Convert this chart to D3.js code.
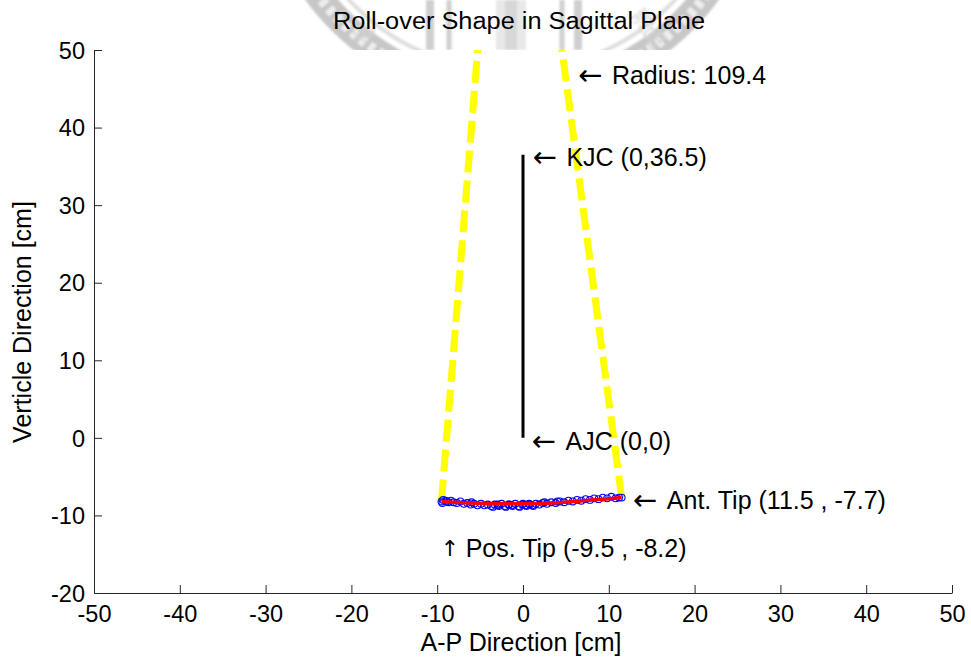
<!DOCTYPE html>
<html>
<head>
<meta charset="utf-8">
<script src="https://cdn.jsdelivr.net/npm/d3@7"></script>
<style>
  body { margin: 0; background: #fff; }
  text { font-family: "Liberation Sans", Arial, Helvetica, sans-serif; fill: #000; }
</style>
</head>
<body>
<svg id="chart" width="971" height="660"></svg>
<script>
// ---- data (cm) ----
const xTicks = [-50, -40, -30, -20, -10, 0, 10, 20, 30, 40, 50];
const yTicks = [-20, -10, 0, 10, 20, 30, 40, 50];

// shank: ankle joint centre to knee joint centre
const shank = [[0, 0], [0, 36.5]];

// roll-over circle: centre and its two end points (posterior / anterior tip)
const rollCenter = [-1.59, 100.9];
const posTip = [-9.5, -8.2];
const antTip = [11.5, -7.7];

// measured centre-of-pressure samples
const copX = [-9.5, -9.3, -9.0, -8.7, -8.4, -8.1, -7.7, -7.3, -6.9, -6.5, -6.1, -5.7, -5.3, -4.9, -4.5,
              -4.1, -3.7, -3.3, -2.9, -2.5, -2.1, -1.7, -1.3, -0.9, -0.5, -0.1, 0.3, 0.7, 1.1, 1.5,
              1.9, 2.3, 2.8, 3.3, 3.8, 4.3, 4.8, 5.3, 5.8, 6.3, 6.8, 7.3, 7.8, 8.3, 8.8, 9.3, 9.8,
              10.3, 10.8, 11.2, 11.5,
              -3.5, -2.8, -2.0, -1.2, -0.4, 0.4, 1.2, -3.0, -1.6, 0.0, 0.8, -9.4, -8.9, -6.0, 2.5, 4.0];
const copY = [-8.2, -8.0, -8.1, -8.3, -8.1, -8.3, -8.4, -8.2, -8.5, -8.4, -8.6, -8.5, -8.7, -8.5, -8.7,
              -8.6, -8.8, -8.6, -8.7, -8.5, -8.8, -8.6, -8.7, -8.5, -8.8, -8.6, -8.7, -8.5, -8.7, -8.5,
              -8.6, -8.4, -8.5, -8.3, -8.4, -8.2, -8.3, -8.1, -8.2, -8.0, -8.1, -7.9, -8.0, -7.8, -7.9,
              -7.7, -7.8, -7.6, -7.8, -7.7, -7.7,
              -8.9, -8.8, -8.9, -8.8, -8.9, -8.8, -8.8, -8.6, -8.6, -8.5, -8.6, -8.4, -8.2, -8.3, -8.3, -8.2];

// fitted roll-over shape
const fitX = [-9.5, -8.0, -6.0, -4.0, -2.0, 0.0, 2.0, 4.0, 6.0, 8.0, 10.0, 11.5];
const fitY = [-8.2, -8.3, -8.4, -8.5, -8.5, -8.5, -8.45, -8.35, -8.2, -8.0, -7.85, -7.7];

// annotations: arrow glyph, text, data anchor
const noteArrow = ["\u2190", "\u2190", "\u2190", "\u2190", "\u2191"];
const noteText = ["Radius: 109.4", "KJC (0,36.5)", "AJC (0,0)", "Ant. Tip (11.5 , -7.7)", "Pos. Tip (-9.5 , -8.2)"];
const noteX = [6.4, 1.1, 1.0, 12.8, -9.6];
const noteY = [46.8, 36.2, -0.4, -8.0, -14.2];

// ---- layout ----
const plot = { left: 94, right: 952, top: 50, bottom: 593 };
const FONT = 23.5;
const NOTE_FONT = 25;

const svg = d3.select("#chart");
const x = d3.scaleLinear().domain([-50, 50]).range([plot.left, plot.right]);
const y = d3.scaleLinear().domain([-20, 50]).range([plot.bottom, plot.top]);

// ---- faint seal behind the title ----
const defs = svg.append("defs");
defs.append("filter").attr("id", "soft").append("feGaussianBlur").attr("stdDeviation", 0.8);
const seal = svg.append("g").attr("opacity", 0.55).attr("filter", "url(#soft)");
const sc = [512, -151];
seal.append("circle").attr("cx", sc[0]).attr("cy", sc[1]).attr("r", 243)
  .attr("fill", "none").attr("stroke", "#9a9a9a").attr("stroke-width", 26);
seal.append("circle").attr("cx", sc[0]).attr("cy", sc[1]).attr("r", 243)
  .attr("fill", "none").attr("stroke", "#e0e0e0").attr("stroke-width", 10)
  .attr("stroke-dasharray", "6,5");
seal.append("circle").attr("cx", sc[0]).attr("cy", sc[1]).attr("r", 222)
  .attr("fill", "none").attr("stroke", "#c4c4c4").attr("stroke-width", 4);
[[430, 8], [449, 5], [562, 5], [578, 8]].forEach(([cx, w]) => {
  seal.append("rect").attr("x", cx - w / 2).attr("y", 0).attr("width", w).attr("height", 50)
    .attr("fill", "#a8a8a8");
});
seal.append("rect").attr("x", 496).attr("y", 0).attr("width", 30).attr("height", 50).attr("fill", "#d6d6d6");
seal.append("rect").attr("x", 505).attr("y", 0).attr("width", 12).attr("height", 50).attr("fill", "#b8b8b8");
[["學", 364, 32, 40], ["灣", 642, 18, -38], ["品", 652, 36, -42]].forEach(([ch, cx, cy, rot]) => {
  seal.append("text").text(ch).attr("transform", `translate(${cx},${cy}) rotate(${rot})`)
    .attr("text-anchor", "middle").attr("dominant-baseline", "central")
    .style("font-family", "Noto Sans CJK TC").style("font-size", "22px").style("fill", "#b0b0b0");
});

// ---- axes background ----
svg.append("rect").attr("x", plot.left).attr("y", plot.top)
  .attr("width", plot.right - plot.left).attr("height", plot.bottom - plot.top).attr("fill", "#fff");

// title
svg.append("text").attr("x", 519).attr("y", 21)
  .attr("text-anchor", "middle").attr("dominant-baseline", "central")
  .attr("textLength", 372).attr("lengthAdjust", "spacingAndGlyphs")
  .style("font-size", FONT + "px").text("Roll-over Shape in Sagittal Plane");

// clip for marks
defs.append("clipPath").attr("id", "plotClip").append("rect")
  .attr("x", plot.left).attr("y", plot.top)
  .attr("width", plot.right - plot.left).attr("height", plot.bottom - plot.top);
const marks = svg.append("g").attr("clip-path", "url(#plotClip)");

const line = d3.line().x(d => x(d[0])).y(d => y(d[1]));

// radius lines from each tip towards the roll-over centre
[[posTip, rollCenter], [antTip, rollCenter]].forEach(seg => {
  marks.append("path").attr("d", line(seg)).attr("fill", "none")
    .attr("stroke", "#ffff00").attr("stroke-width", 7).attr("stroke-dasharray", "22,8");
});

// shank line
marks.append("path").attr("d", line(shank)).attr("fill", "none")
  .attr("stroke", "#000").attr("stroke-width", 3);

// CoP samples
marks.append("g").selectAll("circle").data(d3.range(copX.length)).join("circle")
  .attr("cx", i => x(copX[i])).attr("cy", i => y(copY[i])).attr("r", 3.4)
  .attr("fill", "none").attr("stroke", "#0000ff").attr("stroke-width", 1.1);

// fitted shape
marks.append("path").attr("d", line(d3.zip(fitX, fitY))).attr("fill", "none")
  .attr("stroke", "#ff0000").attr("stroke-width", 3.5).attr("stroke-linejoin", "round");

// ---- axes (ticks inward, no box) ----
const fmt = d => String(d);
const xAxis = svg.append("g").attr("transform", `translate(0,${plot.bottom})`)
  .call(d3.axisBottom(x).tickValues(xTicks).tickFormat(fmt).tickSize(-8).tickPadding(12).tickSizeOuter(0));
const yAxis = svg.append("g").attr("transform", `translate(${plot.left},0)`)
  .call(d3.axisLeft(y).tickValues(yTicks).tickFormat(fmt).tickSize(-8).tickPadding(9).tickSizeOuter(0));
[xAxis, yAxis].forEach(a => {
  a.select(".domain").attr("stroke", "#262626");
  a.selectAll(".tick line").attr("stroke", "#262626");
  a.selectAll(".tick text").style("font-size", FONT + "px")
    .style("font-family", "Liberation Sans, Arial, sans-serif").attr("fill", "#000");
});
xAxis.selectAll(".tick text").attr("dy", "0.71em");
yAxis.selectAll(".tick text").attr("dy", "0.35em");

// axis labels
svg.append("text").attr("x", 521).attr("y", 642)
  .attr("text-anchor", "middle").attr("dominant-baseline", "central")
  .style("font-size", NOTE_FONT + "px").text("A-P Direction [cm]");
svg.append("text").attr("transform", "translate(22,322) rotate(-90)")
  .attr("text-anchor", "middle").attr("dominant-baseline", "central")
  .style("font-size", NOTE_FONT + "px").text("Verticle Direction [cm]");

// annotations: arrow glyph followed by the label
const notes = svg.append("g").selectAll("text").data(noteText).join("text")
  .attr("y", (d, i) => y(noteY[i]))
  .attr("dominant-baseline", "central")
  .style("font-size", NOTE_FONT + "px");
notes.append("tspan")
  .attr("x", (d, i) => x(noteX[i]))
  .style("font-family", "DejaVu Sans")
  .style("font-size", (d, i) => (noteArrow[i] === "\u2191" ? 22 : 29) + "px")
  .text((d, i) => noteArrow[i]);
notes.append("tspan")
  .attr("x", (d, i) => x(noteX[i]) + (noteArrow[i] === "\u2191" ? 25 : 34))
  .text(d => d);
</script>
</body>
</html>
